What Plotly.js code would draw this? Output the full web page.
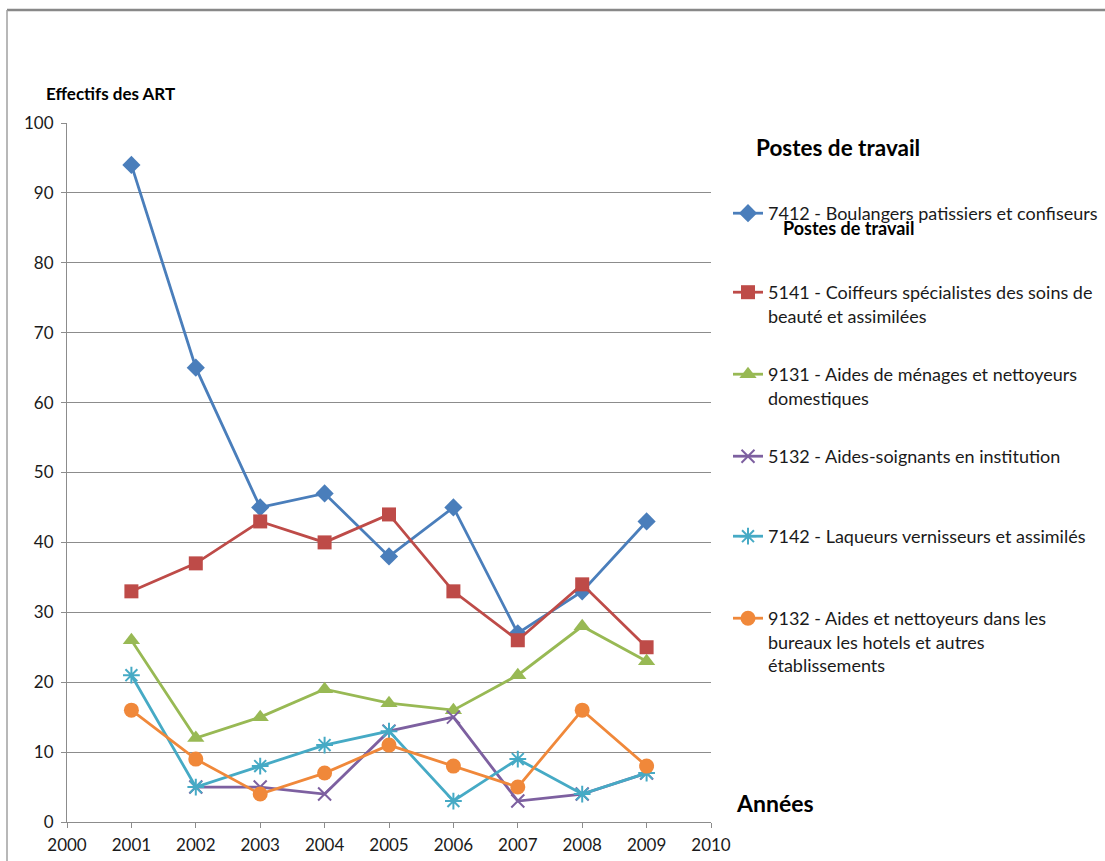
<!DOCTYPE html>
<html>
<head>
<meta charset="utf-8">
<script src="https://cdn.plot.ly/plotly-3.0.1.min.js"></script>
<style>html,body{margin:0;padding:0;background:#fff;}#chart{width:1105px;height:861px;}</style>
</head>
<body>
<div id="chart"></div>
<script>
const years = [2001, 2002, 2003, 2004, 2005, 2006, 2007, 2008, 2009];
const seriesNames = [
  "7412 - Boulangers patissiers et confiseurs",
  "5141 - Coiffeurs spécialistes des soins de<br>beauté et assimilées",
  "9131 - Aides de ménages et nettoyeurs<br>domestiques",
  "5132 - Aides-soignants en institution",
  "7142 - Laqueurs vernisseurs et assimilés",
  "9132 - Aides et nettoyeurs dans les<br>bureaux les hotels et autres<br>établissements"
];
const v7412 = [94, 65, 45, 47, 38, 45, 27, 33, 43];
const v5141 = [33, 37, 43, 40, 44, 33, 26, 34, 25];
const v9131 = [26, 12, 15, 19, 17, 16, 21, 28, 23];
const v5132 = [null, 5, 5, 4, 13, 15, 3, 4, 7];
const v7142 = [21, 5, 8, 11, 13, 3, 9, 4, 7];
const v9132 = [16, 9, 4, 7, 11, 8, 5, 16, 8];
const xTicks = [2000, 2001, 2002, 2003, 2004, 2005, 2006, 2007, 2008, 2009, 2010];
const yTicks = [0, 10, 20, 30, 40, 50, 60, 70, 80, 90, 100];

const values = [v7412, v5141, v9131, v5132, v7142, v9132];
const colors = ["#4A7EBB", "#BE4B48", "#98B954", "#7D60A0", "#46AAC5", "#F0883A"];
const symbols = ["diamond", "square", "triangle-up", "x-thin-open", "asterisk-open", "circle"];
const sizes = [14, 14, 15, 13, 14, 15];
const legendIds = ["legend", "legend2", "legend3", "legend4", "legend5", "legend6"];

const FONT = "Lato, 'Liberation Sans', sans-serif";

const traces = values.map((v, i) => ({
  type: "scatter",
  mode: "lines+markers",
  x: years,
  y: v,
  name: seriesNames[i],
  legend: legendIds[i],
  showlegend: true,
  connectgaps: false,
  line: {color: colors[i], width: 2.8},
  marker: {
    symbol: symbols[i],
    size: sizes[i],
    color: colors[i],
    line: {color: colors[i], width: (i === 3 || i === 4) ? 2 : 0}
  }
}));

const plotL = 67, plotR = 711, plotT = 123, plotB = 822;
const px = p => (p - plotL) / (plotR - plotL);
const py = p => (plotB - p) / (plotB - plotT);
const legendTops = [195, 274, 356, 438, 518, 600];

const layout = {
  width: 1105,
  height: 861,
  showlegend: true,
  paper_bgcolor: "#fff",
  plot_bgcolor: "#fff",
  margin: {l: plotL, r: 1105 - plotR, t: plotT, b: 861 - plotB, autoexpand: false},
  font: {family: FONT, color: "#1a1a1a", size: 17},
  xaxis: {
    range: [2000, 2010],
    tickvals: xTicks,
    ticktext: xTicks.map(String),
    showgrid: false,
    zeroline: false,
    showline: true,
    linecolor: "#8C8C8C",
    linewidth: 1,
    ticks: "outside",
    ticklen: 5,
    tickcolor: "#8C8C8C",
    tickfont: {family: FONT, size: 17, color: "#1a1a1a"},
    ticklabelstandoff: 3
  },
  yaxis: {
    range: [0, 100],
    tickvals: yTicks,
    ticktext: yTicks.map(String),
    showgrid: true,
    gridcolor: "#8C8C8C",
    gridwidth: 1,
    zeroline: false,
    showline: true,
    linecolor: "#8C8C8C",
    linewidth: 1,
    ticks: "outside",
    ticklen: 5,
    tickcolor: "#8C8C8C",
    tickfont: {family: FONT, size: 17, color: "#1a1a1a"},
    ticklabelstandoff: 4
  },
  shapes: [
    {type: "line", xref: "paper", yref: "paper", x0: px(7), x1: px(1110), y0: py(10), y1: py(10), line: {color: "#888", width: 2.5}},
    {type: "line", xref: "paper", yref: "paper", x0: px(7), x1: px(7), y0: py(10), y1: py(870), line: {color: "#A0A0A0", width: 1.5}}
  ],
  annotations: [
    {text: "<b>Effectifs des ART</b>", xref: "paper", yref: "paper", x: px(44), y: py(94), xanchor: "left", yanchor: "middle", showarrow: false, font: {family: FONT, size: 17, color: "#000"}},
    {text: "<b>Postes de travail</b>", xref: "paper", yref: "paper", x: px(754), y: py(147), xanchor: "left", yanchor: "middle", showarrow: false, font: {family: FONT, size: 22.5, color: "#000"}},
    {text: "<b>Postes de travail</b>", xref: "paper", yref: "paper", x: px(781), y: py(228), xanchor: "left", yanchor: "middle", showarrow: false, font: {family: FONT, size: 18, color: "#000"}},
    {text: "<b>Années</b>", xref: "paper", yref: "paper", x: px(734), y: py(803), xanchor: "left", yanchor: "middle", showarrow: false, font: {family: FONT, size: 23, color: "#000"}}
  ]
};

legendIds.forEach((id, i) => {
  layout[id] = {
    x: px(728),
    y: py(legendTops[i]),
    xanchor: "left",
    yanchor: "top",
    valign: "top",
    bgcolor: "rgba(0,0,0,0)",
    borderwidth: 0,
    itemwidth: 30,
    font: {family: FONT, size: 18, color: "#1a1a1a"},
    tracegroupgap: 0
  };
});

Plotly.newPlot("chart", traces, layout, {displayModeBar: false, staticPlot: true});
</script>
</body>
</html>
